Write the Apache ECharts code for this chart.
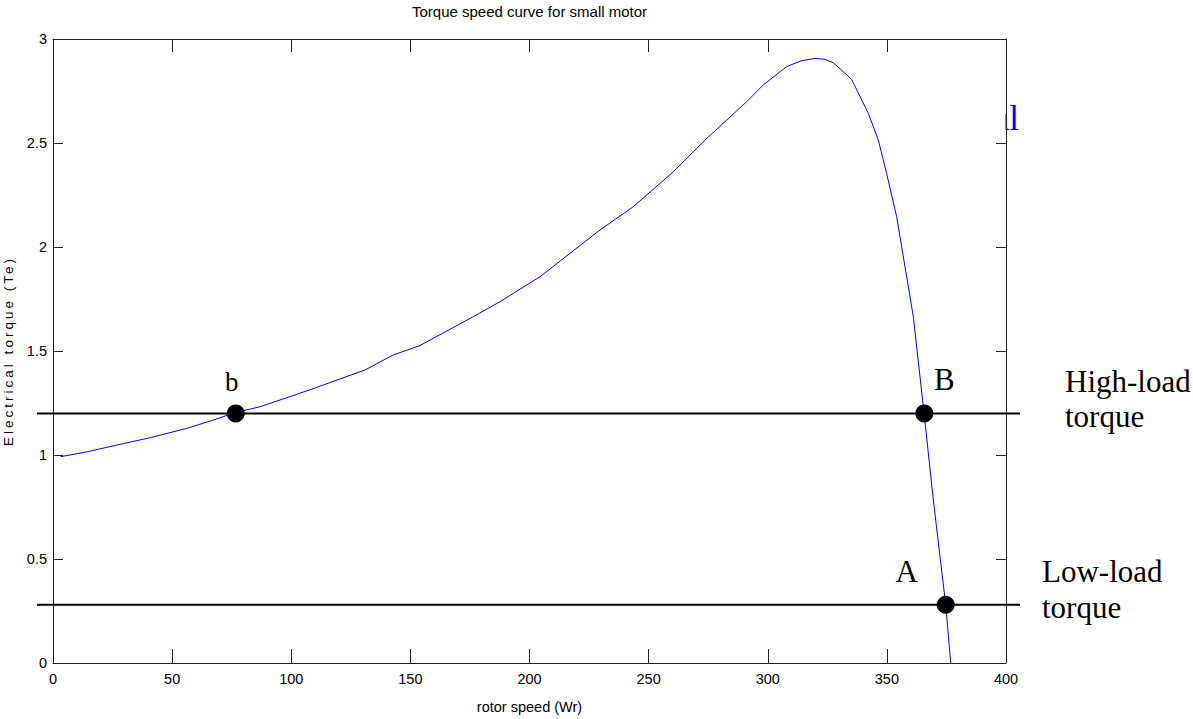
<!DOCTYPE html>
<html>
<head>
<meta charset="utf-8">
<script src="https://cdn.jsdelivr.net/npm/echarts@6/dist/echarts.min.js"></script>
<style>
  html, body { margin: 0; padding: 0; background: #fff; }
  #chart { width: 1193px; height: 719px; }
</style>
</head>
<body>
<div id="chart"></div>
<script>
// ---- data ----
const rotorSpeed = [3.2, 13.4, 28.8, 40.7, 56.1, 67.3, 76.7, 86.9, 106.5, 131, 142.8, 154, 176.4, 187.6, 196, 204.4, 229.6, 243.6, 260.4, 274.4, 291.2, 298.1, 307.9, 314, 319.8, 324, 327.5, 335.2, 342.2, 346.4, 349.9, 354.1, 357.6, 361.1, 365.7, 369.5, 374.7, 376.8];
const electricalTorque = [0.992, 1.013, 1.053, 1.083, 1.128, 1.168, 1.205, 1.232, 1.308, 1.409, 1.481, 1.526, 1.665, 1.737, 1.797, 1.857, 2.082, 2.194, 2.362, 2.522, 2.699, 2.779, 2.867, 2.895, 2.907, 2.902, 2.886, 2.806, 2.643, 2.514, 2.354, 2.146, 1.905, 1.665, 1.192, 0.784, 0.279, 0];
const loadTorque = [1.2, 0.28];
const loadLabels = [['High-load', 'torque'], ['Low-load', 'torque']];
const pointNames = ['b', 'B', 'A'];
const pointSpeed = [76.7, 365.7, 374.7];
const pointTorque = [1.2, 1.2, 0.28];
const xTicks = { min: 0, max: 400, interval: 50 };
const yTicks = { min: 0, max: 3, interval: 0.5 };
const titleText = 'Torque speed curve for small motor';
const xName = 'rotor speed (Wr)';
const yName = 'Electrical torque (Te)';
const clippedText = 'al';

// ---- chart ----
const chart = echarts.init(document.getElementById('chart'), null, { renderer: 'svg' });
const axisColor = '#222';
const sans = 'Liberation Sans, Arial, sans-serif';
const serif = 'Liberation Serif, Times New Roman, serif';

const labelOffsets = { b: [-4, -31], B: [20, -34], A: [-39, -33] };
const labelSizes = { b: 27, B: 31, A: 31 };
const loadTextPos = [
  { dx: 59, dy: [-31.5, 3.5] },
  { dx: 36, dy: [-33.5, 2.5] }
];

const option = {
  backgroundColor: '#fff',
  animation: false,
  title: {
    text: titleText,
    left: 529.5,
    top: 4,
    padding: 0,
    textAlign: 'center',
    textStyle: { fontFamily: sans, fontSize: 15, fontWeight: 'normal', color: '#000' }
  },
  grid: { left: 53, right: 187, top: 39, bottom: 56, containLabel: false, outerBoundsMode: 'none' },
  xAxis: [
    {
      type: 'value', position: 'bottom', min: xTicks.min, max: xTicks.max, interval: xTicks.interval,
      name: xName, nameLocation: 'middle', nameGap: 36,
      nameTextStyle: { fontFamily: sans, fontSize: 14.5, color: '#000' },
      axisLine: { show: true, onZero: false, lineStyle: { color: axisColor, width: 1 } },
      axisTick: { show: true, inside: true, length: 14, lineStyle: { color: axisColor } },
      axisLabel: { show: true, margin: 8, fontFamily: sans, fontSize: 14.5, color: '#000' },
      splitLine: { show: false }
    },
    {
      type: 'value', position: 'top', min: xTicks.min, max: xTicks.max, interval: xTicks.interval,
      axisLine: { show: true, onZero: false, lineStyle: { color: axisColor, width: 1 } },
      axisTick: { show: true, inside: true, length: 13, lineStyle: { color: axisColor } },
      axisLabel: { show: false },
      splitLine: { show: false }
    }
  ],
  yAxis: [
    {
      type: 'value', position: 'left', min: yTicks.min, max: yTicks.max, interval: yTicks.interval,
      name: yName, nameLocation: 'middle', nameGap: 34,
      nameTextStyle: { fontFamily: sans, fontSize: 13.5, color: '#000' },
      axisLine: { show: true, onZero: false, lineStyle: { color: axisColor, width: 1 } },
      axisTick: { show: true, inside: true, length: 10, lineStyle: { color: axisColor } },
      axisLabel: { show: true, margin: 6, fontFamily: sans, fontSize: 14.5, color: '#000' },
      splitLine: { show: false }
    },
    {
      type: 'value', position: 'right', min: yTicks.min, max: yTicks.max, interval: yTicks.interval,
      axisLine: { show: true, onZero: false, lineStyle: { color: axisColor, width: 1 } },
      axisTick: { show: true, inside: true, length: 10, lineStyle: { color: axisColor } },
      axisLabel: { show: false },
      splitLine: { show: false }
    }
  ],
  graphic: [
    {
      type: 'text', z: -20,
      style: { text: clippedText, x: 1019, y: 136, textAlign: 'right', textVerticalAlign: 'bottom',
        font: '35px ' + serif, fill: '#0000ff' }
    },
    {
      type: 'rect', z: -10,
      shape: { x: 54, y: 40, width: 951.5, height: 622 },
      style: { fill: '#fff' }
    }
  ],
  series: [
    {
      type: 'line',
      data: rotorSpeed.map((s, i) => [s, electricalTorque[i]]),
      showSymbol: false,
      smooth: false,
      lineStyle: { color: '#0000ff', width: 1 },
      z: 3
    },
    {
      type: 'custom',
      data: loadTorque.map((t, i) => [i, t]),
      z: 4,
      renderItem: function (params, api) {
        const idx = params.dataIndex;
        const y = api.coord([0, api.value(1)])[1];
        const cs = params.coordSys;
        const xr = cs.x + cs.width;
        const pos = loadTextPos[idx];
        const labels = loadLabels[idx];
        return {
          type: 'group',
          children: [
            {
              type: 'line',
              shape: { x1: cs.x - 16, y1: y, x2: xr + 14, y2: y },
              style: { stroke: '#000', lineWidth: 2 }
            },
            {
              type: 'text',
              style: { text: labels[0], x: xr + pos.dx, y: y + pos.dy[0], textAlign: 'left', textVerticalAlign: 'middle',
                font: '31px ' + serif, fill: '#000' }
            },
            {
              type: 'text',
              style: { text: labels[1], x: xr + pos.dx, y: y + pos.dy[1], textAlign: 'left', textVerticalAlign: 'middle',
                font: '31px ' + serif, fill: '#000' }
            }
          ]
        };
      }
    },
    {
      type: 'scatter',
      data: pointNames.map((n, i) => ({
        name: n,
        value: [pointSpeed[i], pointTorque[i]],
        label: {
          show: true,
          formatter: '{b}',
          position: 'inside',
          offset: labelOffsets[n],
          fontFamily: serif,
          fontSize: labelSizes[n],
          color: '#000'
        }
      })),
      symbol: 'circle',
      symbolSize: 18,
      itemStyle: { color: '#000', opacity: 1 },
      z: 5
    }
  ]
};
chart.setOption(option);

// letter-spaced y-axis title, as in the reference
document.querySelectorAll('#chart svg text').forEach(function (t) {
  if (t.textContent === yName) {
    t.style.letterSpacing = '3px';
  }
});
</script>
</body>
</html>
